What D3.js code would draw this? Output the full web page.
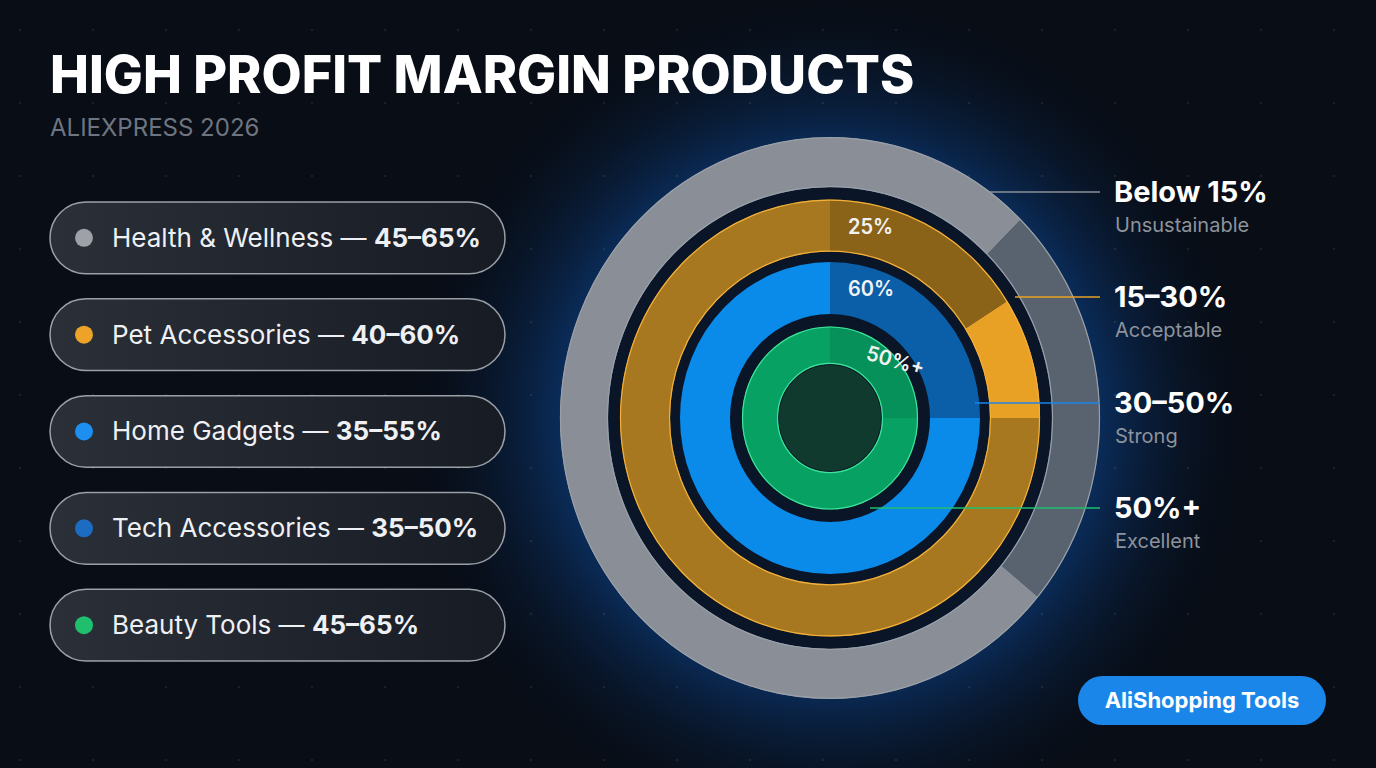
<!DOCTYPE html>
<html><head><meta charset="utf-8">
<script src="https://cdn.jsdelivr.net/npm/d3@7"></script>
<style>html,body{margin:0;padding:0;background:#080d16;overflow:hidden}</style>
</head><body><svg id="c" width="1376" height="768"></svg>
<script>
const categories = ["Health & Wellness","Pet Accessories","Home Gadgets","Tech Accessories","Beauty Tools"];
const ranges = ["45–65%","40–60%","35–55%","35–50%","45–65%"];
const dotColors = ["#9ea2a8","#eda228","#1c8ff0","#1b6cc2","#1fbf6e"];
const tierLabels = ["Below 15%","15–30%","30–50%","50%+"];
const tierSubs = ["Unsustainable","Acceptable","Strong","Excellent"];
const tierLine = ["#8a9099","#e9a125","#1c86e8","#1fbf6e"];
// ring segments: [start%, end%] of a full turn
const graySegs = [[0,12.5,"#8a8e96"],[12.5,36,"#59636f"],[36,100,"#8a8e96"]];
const orangeSegs = [[0,16,"#8a6218"],[16,25,"#e9a125"],[25,100,"#a87820"]];
const blueSegs = [[0,25,"#0b5ea8"],[25,100,"#0a8bea"]];
const greenSegs = [[0,25,"#07915a"],[25,100,"#07a263"]];
const ringLabels = ["25%","60%","50%+"];

const svg = d3.select("#c");
const W=1376,H=768, cx=830, cy=418;
const defs = svg.append("defs");
const rg = defs.append("radialGradient").attr("id","glow").attr("cx",cx).attr("cy",cy).attr("r",430).attr("gradientUnits","userSpaceOnUse");
rg.append("stop").attr("offset","0").attr("stop-color","#0d4fa0");
rg.append("stop").attr("offset","0.55").attr("stop-color","#0b3a78");
rg.append("stop").attr("offset","1").attr("stop-color","#080d16").attr("stop-opacity",0);
svg.append("rect").attr("width",W).attr("height",H).attr("fill","#080d16");
svg.append("circle").attr("cx",cx).attr("cy",cy).attr("r",430).attr("fill","url(#glow)");
const gx=d3.range(20,W,73), gy=d3.range(30,H,73);
svg.append("g").selectAll("circle").data(d3.cross(gx,gy)).join("circle")
 .attr("cx",d=>d[0]).attr("cy",d=>d[1]).attr("r",1.3).attr("fill","#ffffff").attr("opacity",0.08);

const ang = d3.scaleLinear().domain([0,100]).range([0,2*Math.PI]);
const g = svg.append("g").attr("transform",`translate(${cx},${cy}) scale(1,1.04)`);
g.append("circle").attr("r",222).attr("fill","#0a1628");
function ring(segs,r0,r1,stroke){
  const arc=d3.arc().innerRadius(r0).outerRadius(r1);
  g.append("g").selectAll("path").data(segs).join("path")
   .attr("d",d=>arc({startAngle:ang(d[0]),endAngle:ang(d[1])})).attr("fill",d=>d[2]);
  if(stroke){g.append("circle").attr("r",r1-0.5).attr("fill","none").attr("stroke",stroke).attr("stroke-width",1.2);
   g.append("circle").attr("r",r0+0.5).attr("fill","none").attr("stroke",stroke).attr("stroke-width",1.2);}
}
ring(graySegs,222,270,"#9aa0a8");
ring(orangeSegs,160,210,"#f2b03a");
ring(blueSegs,100,150,null);
ring(greenSegs,52,88,"#3fe39a");
g.append("circle").attr("r",51).attr("fill","#113a2e");
[[185,ringLabels[0]],[125,ringLabels[1]],[70,ringLabels[2]]].forEach(([r,t],i)=>{
  g.append("text").attr("x",18).attr("y",-r+(i==2?6:8)).attr("fill","#f2f2f2")
   .attr("font-family","Inter, sans-serif").attr("font-weight",600).attr("font-size",20)
   .attr("transform",i==2?"rotate(16)":null).text(t);
});
const lx0=[990,1015,975,870], ly=[192,297,403,508];
ly.forEach((y,i)=>{
  svg.append("line").attr("x1",lx0[i]).attr("x2",1100).attr("y1",y).attr("y2",y).attr("stroke",tierLine[i]).attr("stroke-width",1.6);
  svg.append("text").attr("x",1114).attr("y",y+10).attr("fill","#fff").attr("font-family","Inter, sans-serif").attr("font-weight",700).attr("font-size",29).text(tierLabels[i]);
  svg.append("text").attr("x",1115).attr("y",y+40).attr("fill","#8d939c").attr("font-family","Inter, sans-serif").attr("font-size",20).text(tierSubs[i]);
});
svg.append("text").attr("x",50).attr("y",93).attr("fill","#fff").attr("font-family","Inter, sans-serif").attr("font-weight",800).attr("font-size",52).text("HIGH PROFIT MARGIN PRODUCTS");
svg.append("text").attr("x",50).attr("y",136).attr("fill","#6f7580").attr("font-family","Inter, sans-serif").attr("font-size",24).text("ALIEXPRESS 2026");
const pg=defs.append("linearGradient").attr("id","pill");
pg.append("stop").attr("offset","0").attr("stop-color","#2a2f38");
pg.append("stop").attr("offset","1").attr("stop-color","#161b24");
const py = d3.scaleBand().domain(categories).range([202,661]).paddingInner(0.26);
const lg = svg.append("g").selectAll("g").data(categories).join("g").attr("transform",d=>`translate(50,${py(d)})`);
lg.append("rect").attr("width",455).attr("height",py.bandwidth()).attr("rx",py.bandwidth()/2)
 .attr("fill","url(#pill)").attr("stroke","#c8ccd2").attr("stroke-opacity",0.75).attr("stroke-width",1.5);
lg.append("circle").attr("cx",34).attr("cy",py.bandwidth()/2).attr("r",9).attr("fill",(d,i)=>dotColors[i]);
const lt=lg.append("text").attr("x",62).attr("y",py.bandwidth()/2+9).attr("fill","#eef0f3").attr("font-family","Inter, sans-serif").attr("font-size",26);
lt.append("tspan").text(d=>d+" — ");
lt.append("tspan").attr("font-weight",700).text((d,i)=>ranges[i]);
svg.append("rect").attr("x",1078).attr("y",676).attr("width",248).attr("height",49).attr("rx",24.5).attr("fill","#1a86ea");
svg.append("text").attr("x",1202).attr("y",708).attr("text-anchor","middle").attr("fill","#fff").attr("font-family","Inter, sans-serif").attr("font-weight",700).attr("font-size",22).text("AliShopping Tools");
</script></body></html>
